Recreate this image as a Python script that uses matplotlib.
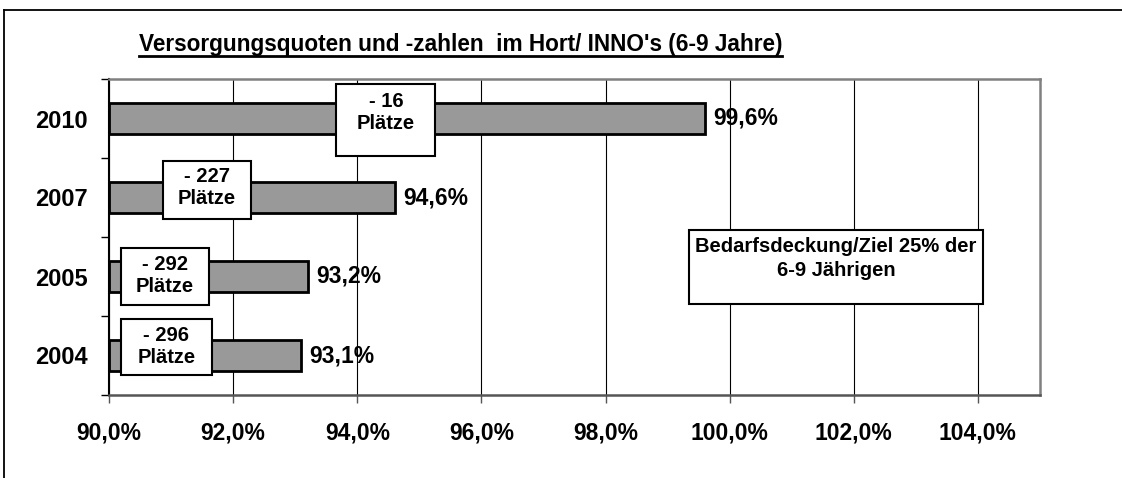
import matplotlib
matplotlib.use("Agg")
import matplotlib.pyplot as plt
from matplotlib.patches import Rectangle
from matplotlib.lines import Line2D

plt.rcParams['font.family'] = ['Liberation Sans', 'DejaVu Sans']
plt.rcParams['font.weight'] = 'bold'

# ---- data ----
years = ["2010", "2007", "2005", "2004"]
quotes = [99.6, 94.6, 93.2, 93.1]
value_labels = ["99,6%", "94,6%", "93,2%", "93,1%"]
deficit_labels = ["- 16\nPlätze", "- 227\nPlätze", "- 292\nPlätze", "- 296\nPlätze"]
xticks = [90, 92, 94, 96, 98, 100, 102, 104]
xtick_labels = ["90,0%", "92,0%", "94,0%", "96,0%", "98,0%", "100,0%", "102,0%", "104,0%"]
title = "Versorgungsquoten und -zahlen  im Hort/ INNO's (6-9 Jahre)"
note = "Bedarfsdeckung/Ziel 25% der\n6-9 Jährigen"

# deficit box layout (x0, x1 in % ; y0, y1 relative to category centre; text shift)
box_layout = [
    (93.66, 95.26, -0.437, 0.475, -0.095),
    (90.87, 92.29, -0.46, 0.27, -0.03),
    (90.19, 91.61, -0.367, 0.367, -0.01),
    (90.19, 91.66, -0.468, 0.253, -0.01),
]

W, H = 1122, 478
fig = plt.figure(figsize=(W / 100, H / 100), dpi=100)
ax = fig.add_axes([109 / W, 1 - 395 / H, (1040 - 109) / W, (395 - 79) / H])

ypos = list(range(len(years)))
ax.barh(ypos, [q - 90 for q in quotes], left=90, height=0.4, color='#999999',
        edgecolor='black', linewidth=2, zorder=3)

ax.set_xlim(90, 105)
ax.set_ylim(len(years) - 0.5, -0.5)

ax.set_xticks(xticks)
ax.set_xticklabels(xtick_labels, fontsize=16.5, fontweight='bold')
ax.tick_params(axis='x', direction='out', length=6, width=1, color='#555555', pad=13)
ax.set_yticks(ypos)
ax.set_yticklabels(years, fontsize=17, fontweight='bold')
ax.tick_params(axis='y', which='major', length=0, pad=15)
ax.set_yticks([i - 0.5 for i in range(len(years) + 1)], minor=True)
ax.tick_params(axis='y', which='minor', direction='out', length=6, width=1, color='black')

ax.grid(axis='x', color='black', linewidth=0.8, zorder=0)
ax.set_axisbelow(True)
for side in ['top', 'right']:
    ax.spines[side].set_color('#808080')
    ax.spines[side].set_linewidth(1.8)
ax.spines['bottom'].set_color('#555555')
ax.spines['bottom'].set_linewidth(1.8)
ax.spines['left'].set_color('black')
ax.spines['left'].set_linewidth(1.5)

# value labels
for y, q, lab in zip(ypos, quotes, value_labels):
    ax.annotate(lab, xy=(q, y), xytext=(6, 0), textcoords='offset points',
                ha='left', va='center', fontsize=16.5, fontweight='bold', zorder=5)

# deficit boxes
for y, lab, (x0, x1, y0, y1, dy) in zip(ypos, deficit_labels, box_layout):
    ax.add_patch(Rectangle((x0, y + y0), x1 - x0, y1 - y0, facecolor='white',
                           edgecolor='black', linewidth=1.5, zorder=4))
    ax.text((x0 + x1) / 2, y + (y0 + y1) / 2 + dy, lab, ha='center', va='center',
            fontsize=14.5, fontweight='bold', linespacing=1.2, zorder=5)

# note box
ax.add_patch(Rectangle((0.623, 0.288), 0.316, 0.234, transform=ax.transAxes,
                       facecolor='white', edgecolor='black', linewidth=1.5, zorder=4))
ax.text(0.781, 0.432, note, transform=ax.transAxes, ha='center', va='center',
        fontsize=14.5, fontweight='bold', linespacing=1.3, zorder=5)

# title with underline
t = fig.text(460.5 / W, 1 - 45 / H, title, ha='center', va='center',
             fontsize=16.3, fontweight='bold')
fig.canvas.draw()
bb = t.get_window_extent()
uy = (bb.y0 + 1) / H
fig.add_artist(Line2D([bb.x0 / W, bb.x1 / W], [uy, uy], color='black', linewidth=2))

# outer frame (cropped)
fig.add_artist(Line2D([3.5 / W, 1.0], [1 - 9.5 / H, 1 - 9.5 / H], color='black', linewidth=1.3))
fig.add_artist(Line2D([3.5 / W, 3.5 / W], [0, 1 - 9.5 / H], color='black', linewidth=1.3))

fig.savefig("out.png", dpi=100)
